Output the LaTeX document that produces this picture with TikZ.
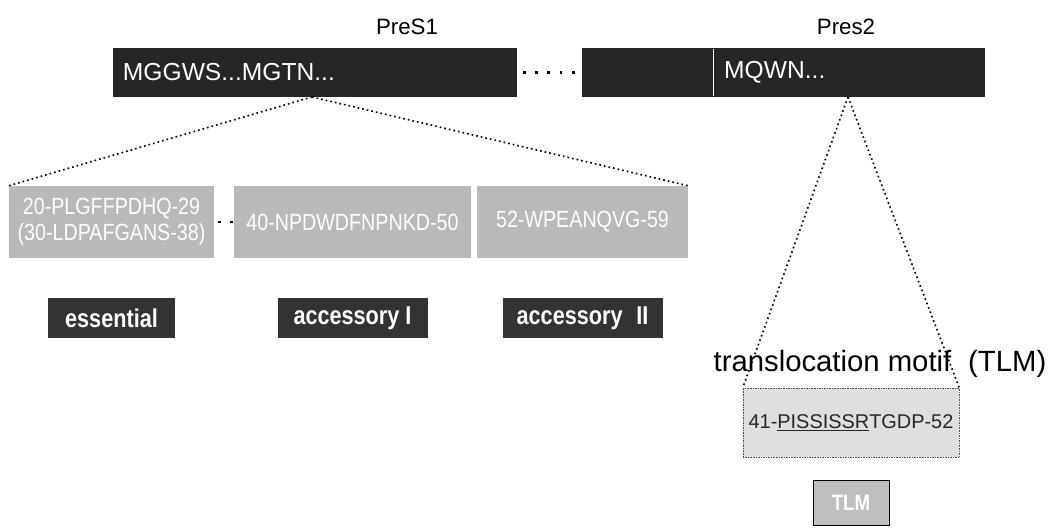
\documentclass[tikz,border=0pt]{standalone}
\usepackage[x11names]{xcolor}
\usepackage{fontspec}
\setmainfont{Liberation Sans}
\newfontfamily\narrowsf[FakeStretch=0.84]{Liberation Sans}
\usepackage{tikz}
\usetikzlibrary{positioning}
\tikzset{
  darkbar/.style={fill=black!85, text=white, inner sep=0pt, minimum height=1.47cm, font=\fontsize{21}{24}\selectfont},
  greybox/.style={fill=gray!55, text=white, inner sep=0pt, align=center, minimum height=2.16cm, font=\narrowsf\fontsize{20}{22}\selectfont},
  tagbox/.style={fill=black!80, text=white, inner sep=0pt, minimum height=1.2cm, font=\narrowsf\bfseries\fontsize{22}{24}\selectfont},
  dotline/.style={line width=1.4pt, dash pattern=on 1.4pt off 2.6pt},
  bigdots/.style={line width=2.4pt, dash pattern=on 2.4pt off 8pt},
}

\begin{document}
\begin{tikzpicture}[x=0.03cm, y=-0.03cm]
        \useasboundingbox (0,0) rectangle (1063,529);
        \node[font=\fontsize{19}{22}\selectfont] (pres1lab) at (407,27) {PreS1};
        \node[font=\fontsize{19}{22}\selectfont] (pres2lab) at (846,27) {Pres2};
        \node[darkbar, minimum width=12.12cm, text width=11.52cm, align=left] (pres1bar) at (315,72.5) {MGGWS...MGTN...};
        \node[darkbar, minimum width=12.09cm] (pres2bar) at (783.5,72.5) {};
        \draw[white, line width=0.6pt] (713,49)--(713,96);
        \node[text=white, anchor=west, inner sep=0pt, font=\fontsize{21}{24}\selectfont] (mqwn) at (724,72.5) {MQWN...};
        \draw[bigdots, shorten <=5pt, shorten >=3pt] (pres1bar) -- (pres2bar);
        \coordinate (apex1) at (312,97);
        \coordinate (apex2) at (848,97);
        \node[greybox, minimum width=6.15cm] (ess) at (111.5,222) {20-PLGFFPDHQ-29\\(30-LDPAFGANS-38)};
        \node[greybox, minimum width=7.11cm] (acc1) at (352.5,222) {40-NPDWDFNPNKD-50};
        \node[greybox, minimum width=6.33cm] (acc2) at (582.5,222) {52-WPEANQVG-59};
        \draw[bigdots, shorten <=3pt] (ess) -- (acc1);
        \draw[dotline] (apex1) -- (ess.north west);
        \draw[dotline] (apex1) -- (acc2.north east);
        \node[tagbox, minimum width=3.81cm, below=1.2cm of ess] (esstag) {essential};
        \node[tagbox, minimum width=4.5cm, below=1.2cm of acc1] (acc1tag) {accessory I};
        \node[tagbox, minimum width=4.8cm, below=1.2cm of acc2] (acc2tag) {accessory\hspace{0.3em} II};
        \node[font=\fontsize{25}{28}\selectfont] (tlmtext) at (880,364) {translocation motif\hspace{0.3em} (TLM)};
        \node[draw=black!70, densely dotted, fill=gray!25, text=black!85, inner sep=0pt, minimum width=6.48cm, minimum height=2.07cm, font=\fontsize{17}{20}\selectfont] (tlmbox) at (851,422.5) {41-\underline{PISSISSR}TGDP-52};
        \node[draw=black, line width=0.8pt, fill=gray!50, text=white, inner sep=0pt, minimum width=2.28cm, minimum height=1.35cm, font=\narrowsf\bfseries\fontsize{19}{22}\selectfont, below=0.69cm of tlmbox] (tlmtag) {TLM};
        \draw[dotline] (apex2) -- (tlmbox.north west);
        \draw[dotline] (apex2) -- (tlmbox.north east);
    \end{tikzpicture}
\end{document}
